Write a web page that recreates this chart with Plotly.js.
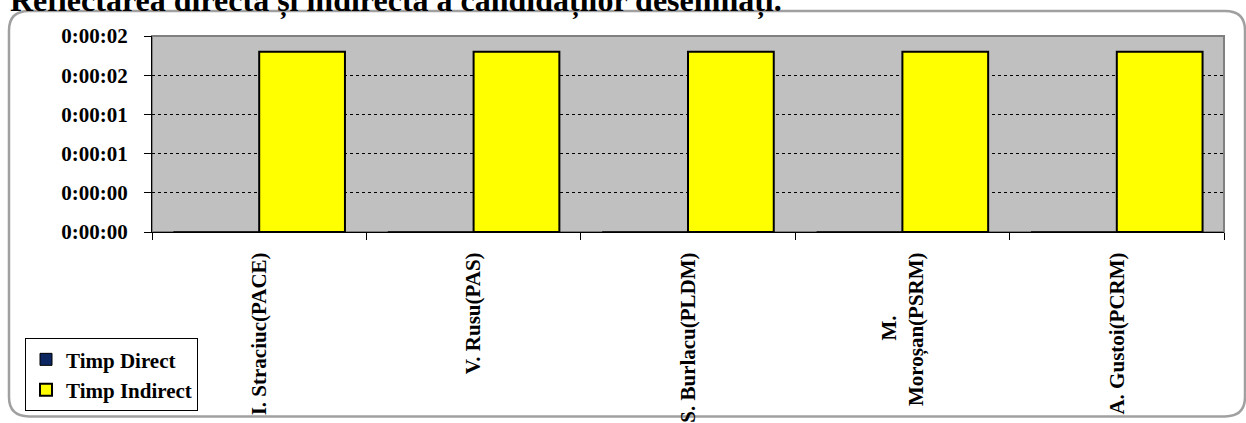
<!DOCTYPE html>
<html>
<head>
<meta charset="utf-8">
<script src="https://cdn.plot.ly/plotly-3.0.1.min.js"></script>
<style>html,body{margin:0;padding:0;background:#fff;}#chart{width:1246px;height:423px;}</style>
</head>
<body>
<div id="chart"></div>
<script>
const chartTitle = "Reflectarea directă și indirectă a candidaților desemnați.";
const categories = ["I. Straciuc(PACE)", "V. Rusu(PAS)", "S. Burlacu(PLDM)", "M. Moroșan(PSRM)", "A. Gustoi(PCRM)"];
const categoryLabels = ["I. Straciuc(PACE)", "V. Rusu(PAS)", "S. Burlacu(PLDM)", "M." + "\u00a0".repeat(12) + "<br>Moroșan(PSRM)", "A. Gustoi(PCRM)"];
const seriesNames = ["Timp Direct", "Timp Indirect"];
const timpDirect = [0, 0, 0, 0, 0];          // seconds
const timpIndirect = [1.84, 1.84, 1.84, 1.84, 1.84]; // seconds
const yTickVals = [0, 0.4, 0.8, 1.2, 1.6, 2.0];
const yTickText = ["0:00:00", "0:00:00", "0:00:01", "0:00:01", "0:00:02", "0:00:02"];

const W = 1246, H = 423;
const M = {l: 152, r: 22, t: 36, b: 184};
const PW = W - M.l - M.r, PH = H - M.t - M.b;
const px = x => (x - M.l) / PW;
const py = y => (H - M.b - y) / PH;

function roundRectPath(x0, y0, x1, y1, r) {
  const pts = [
    ['M', x0 + r, y0], ['L', x1 - r, y0], ['Q', x1, y0, x1, y0 + r],
    ['L', x1, y1 - r], ['Q', x1, y1, x1 - r, y1], ['L', x0 + r, y1],
    ['Q', x0, y1, x0, y1 - r], ['L', x0, y0 + r], ['Q', x0, y0, x0 + r, y0]
  ];
  return pts.map(p => {
    const c = p[0], v = p.slice(1);
    let s = c;
    for (let i = 0; i < v.length; i += 2) s += ' ' + px(v[i]).toFixed(5) + ',' + py(v[i + 1]).toFixed(5);
    return s;
  }).join(' ') + ' Z';
}

const font = {family: '"Liberation Serif", "Times New Roman", serif', size: 21, color: '#000', weight: 'bold'};

const traces = [
  {type: 'bar', name: seriesNames[0], x: categories, y: timpDirect,
   marker: {color: '#0b2660', line: {color: '#000', width: 1}}},
  {type: 'bar', name: seriesNames[1], x: categories, y: timpIndirect,
   marker: {color: '#ffff00', line: {color: '#000', width: 2}}}
];

const layout = {
  width: W, height: H,
  margin: M,
  paper_bgcolor: 'rgba(0,0,0,0)',
  plot_bgcolor: '#c0c0c0',
  font: font,
  title: {text: chartTitle, font: {family: font.family, size: 32, weight: 'bold', color: '#000'},
          xref: 'container', x: 10 / W, xanchor: 'left',
          yref: 'container', y: 1 - 11 / H, yanchor: 'bottom'},
  barmode: 'group', bargap: 0.2, bargroupgap: 0,
  showlegend: true,
  legend: {x: px(25), y: py(349), xanchor: 'left', yanchor: 'top',
           bgcolor: '#fff', bordercolor: '#000', borderwidth: 1,
           font: font, traceorder: 'normal'},
  xaxis: {type: 'category', tickvals: categories, ticktext: categoryLabels,
          tickangle: -90, tickson: 'boundaries', ticks: 'outside', ticklen: 7, tickcolor: '#000', tickwidth: 1,
          showline: true, linecolor: '#000', linewidth: 1, showgrid: false, ticklabelstandoff: 11,
          automargin: false, tickfont: font},
  yaxis: {range: [0, 2], tickvals: yTickVals, ticktext: yTickText,
          ticks: 'outside', ticklen: 7, tickcolor: '#000', tickwidth: 1,
          showline: true, linecolor: '#000', linewidth: 1,
          showgrid: true, gridcolor: '#000', gridwidth: 1, griddash: 'dot', zeroline: false,
          ticklabelstandoff: 12, automargin: false, tickfont: font},
  shapes: [
    {type: 'rect', xref: 'paper', yref: 'paper', x0: 0, x1: 1, y0: 0, y1: 1,
     line: {color: '#808080', width: 2}, layer: 'below'},
    {type: 'path', xref: 'paper', yref: 'paper', path: roundRectPath(9, 10, 1245, 430, 20),
     line: {color: '#a0a0a0', width: 2.5}, layer: 'below'}
  ]
};

Plotly.newPlot('chart', traces, layout, {staticPlot: true, displayModeBar: false});
</script>
</body>
</html>
